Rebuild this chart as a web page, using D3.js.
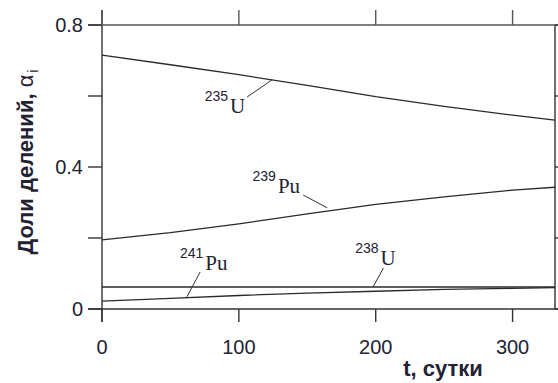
<!DOCTYPE html>
<html>
<head>
<meta charset="utf-8">
<script src="https://cdn.jsdelivr.net/npm/d3@7"></script>
<style>
  body { margin: 0; background: #fff; }
  svg { display: block; }
</style>
</head>
<body>
<svg id="chart" width="558" height="383"></svg>
<script>
// time, days
var days = [0, 50, 100, 150, 200, 250, 300, 331];
// fission fractions
var u235 = [0.715, 0.688, 0.660, 0.630, 0.598, 0.571, 0.546, 0.532];
var pu239 = [0.195, 0.215, 0.240, 0.268, 0.295, 0.316, 0.335, 0.343];
var u238 = [0.062, 0.062, 0.062, 0.062, 0.062, 0.062, 0.062, 0.062];
var pu241 = [0.022, 0.030, 0.038, 0.045, 0.050, 0.055, 0.058, 0.060];

var xTicks = [0, 100, 200, 300];
var yTicks = [0, 0.2, 0.4, 0.6, 0.8];
var yLabels = [0, 0.4, 0.8];

// isotope labels: mass number, element, label anchor (t, v), pointer from/to
var labels = [
  {mass: "235", el: "U", t: 75, v: 0.552, p: [[106, 0.597], [124.4, 0.646]]},
  {mass: "239", el: "Pu", t: 110, v: 0.327, p: [[147, 0.321], [164.6, 0.285]]},
  {mass: "241", el: "Pu", t: 57, v: 0.110, p: [[71.7, 0.104], [62, 0.034]]},
  {mass: "238", el: "U", t: 185, v: 0.124, p: [[205.6, 0.115], [198, 0.062]]}
];

var svg = d3.select("#chart");
var plotLeft = 102, plotRight = 555, plotTop = 25, plotBottom = 309;
var axisColor = "#333";
var textColor = "#222233";

var x = d3.scaleLinear().domain([0, 331]).range([plotLeft, plotRight]);
var y = d3.scaleLinear().domain([0, 0.8]).range([plotBottom, plotTop]);

// frame lines
var frame = svg.append("g").attr("stroke", axisColor).attr("stroke-width", 1.4);
frame.append("line").attr("x1", plotLeft).attr("x2", plotLeft).attr("y1", plotTop - 15).attr("y2", plotBottom + 13);
frame.append("line").attr("x1", plotRight).attr("x2", plotRight).attr("y1", plotTop).attr("y2", plotBottom);
frame.append("line").attr("x1", plotLeft - 14).attr("x2", 558).attr("y1", plotBottom).attr("y2", plotBottom);
frame.append("line").attr("x1", plotLeft - 14).attr("x2", 558).attr("y1", plotTop).attr("y2", plotTop).attr("stroke", "#555");

// y ticks (left & right)
yTicks.forEach(function(v) {
  frame.append("line").attr("x1", plotLeft - 14).attr("x2", plotLeft).attr("y1", y(v)).attr("y2", y(v));
  frame.append("line").attr("x1", plotRight).attr("x2", plotRight + 14).attr("y1", y(v)).attr("y2", y(v));
});
// x ticks (bottom & top)
xTicks.forEach(function(t) {
  frame.append("line").attr("x1", x(t)).attr("x2", x(t)).attr("y1", plotBottom).attr("y2", plotBottom + 13);
  frame.append("line").attr("x1", x(t)).attr("x2", x(t)).attr("y1", plotTop - 15).attr("y2", plotTop).attr("stroke", "#555");
});

var fmt = function(v) { return v === 0 ? "0" : d3.format(".1f")(v); };
svg.append("g").selectAll("text").data(yLabels).enter().append("text")
  .attr("x", plotLeft - 19).attr("y", function(d) { return y(d); })
  .attr("dy", "0.35em").attr("text-anchor", "end")
  .attr("font-family", "Liberation Sans, Arial, sans-serif").attr("font-size", 20)
  .attr("fill", textColor).text(fmt);

svg.append("g").selectAll("text").data(xTicks).enter().append("text")
  .attr("x", function(d) { return x(d); }).attr("y", 354)
  .attr("text-anchor", "middle")
  .attr("font-family", "Liberation Sans, Arial, sans-serif").attr("font-size", 20)
  .attr("fill", textColor).text(function(d) { return d; });

// axis titles
svg.append("text").attr("x", 443).attr("y", 376).attr("text-anchor", "middle")
  .attr("font-family", "Liberation Sans, Arial, sans-serif").attr("font-size", 22).attr("font-weight", "bold")
  .attr("fill", textColor).text("t, сутки");

var yt = svg.append("text").attr("transform", "translate(33,162) rotate(-90)").attr("text-anchor", "middle")
  .attr("font-family", "Liberation Sans, Arial, sans-serif").attr("font-size", 22).attr("font-weight", "bold")
  .attr("fill", textColor);
yt.append("tspan").text("Доли делений, ");
yt.append("tspan").attr("font-weight", "normal").text("α");
yt.append("tspan").attr("font-size", 14).attr("font-weight", "normal").attr("dx", 2).attr("dy", 5).text("i");

// curves
var line = d3.line()
  .x(function(d, i) { return x(days[i]); })
  .y(function(d) { return y(d); });
[u235, pu239, u238, pu241].forEach(function(s) {
  svg.append("path").attr("d", line(s)).attr("fill", "none")
    .attr("stroke", "#2a2a2a").attr("stroke-width", 1.3);
});

// isotope labels
labels.forEach(function(l) {
  var txt = svg.append("text").attr("x", x(l.t)).attr("y", y(l.v)).attr("fill", textColor);
  txt.append("tspan").attr("font-family", "Liberation Sans, Arial, sans-serif").attr("font-size", 14)
    .attr("dy", -12).text(l.mass);
  txt.append("tspan").attr("font-family", "Liberation Serif, Times New Roman, serif").attr("font-size", 21)
    .attr("dy", 12).attr("dx", 2).text(l.el);
  svg.append("line").attr("x1", x(l.p[0][0])).attr("y1", y(l.p[0][1]))
    .attr("x2", x(l.p[1][0])).attr("y2", y(l.p[1][1]))
    .attr("stroke", "#333").attr("stroke-width", 1);
});
</script>
</body>
</html>
